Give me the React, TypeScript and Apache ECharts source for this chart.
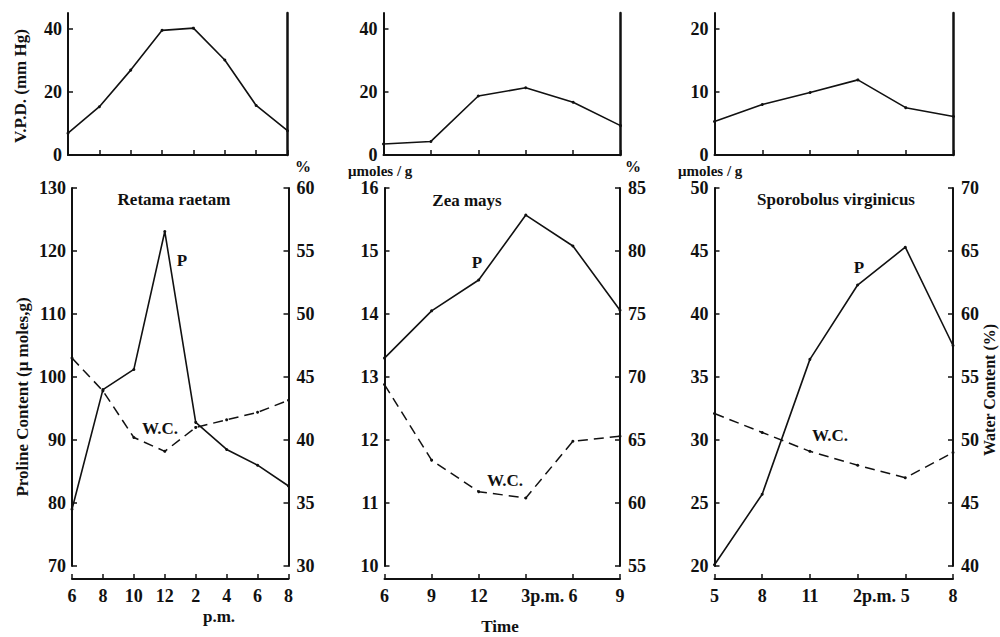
import React, { useEffect, useRef } from "react";
import * as echarts from "echarts";

// ---- Retama raetam ----
const retamaCats = ["06:00", "08:00", "10:00", "12:00", "14:00", "16:00", "18:00", "20:00"];
const retamaTickLabels = ["6", "8", "10", "12", "2", "4", "6", "8"];
const retamaVPD = [6.9, 15.3, 26.9, 39.5, 40.2, 30.1, 15.7, 7.7];
const retamaProline = [79, 98.0, 101.2, 123.1, 92.8, 88.5, 86.0, 82.7];
const retamaWater = [46.5, 43.9, 40.2, 39.1, 41.0, 41.6, 42.2, 43.15];

// ---- Zea mays ----
const zeaCats = ["06:00", "09:00", "12:00", "15:00", "18:00", "21:00"];
const zeaTickLabels = ["6", "9", "12", "3p.m.", "6", "9"];
const zeaVPD = [3.5, 4.3, 18.7, 21.3, 16.7, 9.3];
const zeaProline = [13.3, 14.05, 14.54, 15.57, 15.08, 14.06];
const zeaWater = [69.4, 63.4, 60.9, 60.4, 64.9, 65.3];

// ---- Sporobolus virginicus ----
const sporoCats = ["05:00", "08:00", "11:00", "14:00", "17:00", "20:00"];
const sporoTickLabels = ["5", "8", "11", "2p.m.", "5", "8"];
const sporoVPD = [5.3, 8.0, 9.9, 11.9, 7.5, 6.1];
const sporoProline = [20.1, 25.7, 36.4, 42.3, 45.3, 37.5];
const sporoWater = [52.1, 50.6, 49.1, 48.0, 47.0, 49.0];

// axis scales
const vpdTicksA = [0, 20, 40];
const vpdTicksB = [0, 10, 20];
const prolineRanges = [
  [70, 130, 10],
  [10, 16, 1],
  [20, 50, 5],
];
const waterRanges = [
  [30, 60, 5],
  [55, 85, 5],
  [40, 70, 5],
];
const titles = ["Retama raetam", "Zea mays", "Sporobolus virginicus"];

const FONT = "Liberation Serif";
const INK = "#111";

const panels = [
  { cats: retamaCats, labels: retamaTickLabels, vpd: retamaVPD, p: retamaProline, wc: retamaWater, vpdTicks: vpdTicksA, vpdMax: 45 },
  { cats: zeaCats, labels: zeaTickLabels, vpd: zeaVPD, p: zeaProline, wc: zeaWater, vpdTicks: vpdTicksA, vpdMax: 45 },
  { cats: sporoCats, labels: sporoTickLabels, vpd: sporoVPD, p: sporoProline, wc: sporoWater, vpdTicks: vpdTicksB, vpdMax: 22.5 },
];

const topGrids = [
  { left: 68, width: 219.5 },
  { left: 383.5, width: 237 },
  { left: 714.5, width: 239 },
];
const botGrids = [
  { left: 72, width: 216.5 },
  { left: 384.5, width: 235.5 },
  { left: 714.5, width: 238.5 },
];

function txt(text: string, x: number, y: number, size = 17, rotation = 0, align = "center") {
  return {
    type: "text",
    x,
    y,
    rotation,
    silent: true,
    style: {
      text,
      fill: INK,
      font: `bold ${size}px "${FONT}"`,
      fontFamily: FONT,
      fontWeight: "bold",
      fontSize: size,
      align,
      textAlign: align,
      verticalAlign: "middle",
      textVerticalAlign: "middle",
    },
  };
}

function buildOption() {
  const grid: any[] = [];
  const xAxis: any[] = [];
  const yAxis: any[] = [];
  const series: any[] = [];
  const lineStyleAxis = { color: INK, width: 2 };
  const labelBase = { fontFamily: FONT, fontSize: 18, fontWeight: "bold", color: INK };

  // top panels
  panels.forEach((pn, i) => {
    grid.push({ left: topGrids[i].left, width: topGrids[i].width, top: 13, height: 142, containLabel: false, outerBoundsMode: "none" });
    xAxis.push({
      type: "category",
      gridIndex: grid.length - 1,
      data: pn.cats,
      boundaryGap: false,
      axisLine: { show: true, onZero: false, lineStyle: lineStyleAxis },
      axisTick: { show: true, inside: true, length: 5, interval: 0, lineStyle: { color: INK, width: 1.5 } },
      axisLabel: { show: false },
      splitLine: { show: false },
    });
    yAxis.push({
      type: "value",
      gridIndex: grid.length - 1,
      position: "left",
      min: 0,
      max: pn.vpdMax,
      interval: pn.vpdTicks[1],
      axisLine: { show: true, lineStyle: lineStyleAxis },
      axisTick: { show: true, inside: true, length: 5, customValues: pn.vpdTicks, lineStyle: { color: INK, width: 1.5 } },
      axisLabel: { ...labelBase, margin: 6, customValues: pn.vpdTicks },
      splitLine: { show: false },
    });
    yAxis.push({
      type: "value",
      gridIndex: grid.length - 1,
      position: "right",
      min: 0,
      max: pn.vpdMax,
      axisLine: { show: true, lineStyle: { color: INK, width: 2.5 } },
      axisTick: { show: false },
      axisLabel: { show: false },
      splitLine: { show: false },
    });
    series.push({
      type: "line",
      name: "V.P.D. " + titles[i],
      xAxisIndex: xAxis.length - 1,
      yAxisIndex: yAxis.length - 2,
      data: pn.vpd,
      symbol: "circle",
      symbolSize: 3,
      itemStyle: { color: INK },
      lineStyle: { color: INK, width: 1.6 },
    });
  });

  // bottom panels
  panels.forEach((pn, i) => {
    grid.push({ left: botGrids[i].left, width: botGrids[i].width, top: 188, height: 378, containLabel: false, outerBoundsMode: "none" });
    const labels = pn.labels;
    xAxis.push({
      type: "category",
      gridIndex: grid.length - 1,
      data: pn.cats,
      boundaryGap: false,
      offset: 13,
      axisLine: { show: true, onZero: false, lineStyle: lineStyleAxis },
      axisTick: { show: true, inside: true, length: 5, interval: 0, lineStyle: { color: INK, width: 1.5 } },
      axisLabel: {
        ...labelBase,
        interval: 0,
        margin: 8,
        formatter: (_v: string, idx: number) => {
          const l = labels[idx];
          if (l.endsWith("p.m.")) {
            const n = l.replace("p.m.", "");
            return `{n|${n}}{pm|p.m.}`;
          }
          return l;
        },
        rich: {
          n: { fontFamily: FONT, fontSize: 18, fontWeight: "bold", color: INK, padding: [0, 0, 0, 34] },
          pm: { fontFamily: FONT, fontSize: 18, fontWeight: "bold", color: INK },
        },
      },
      splitLine: { show: false },
    });
    const pr = prolineRanges[i];
    const wr = waterRanges[i];
    yAxis.push({
      type: "value",
      gridIndex: grid.length - 1,
      position: "left",
      min: pr[0],
      max: pr[1],
      interval: pr[2],
      axisLine: { show: true, lineStyle: lineStyleAxis },
      axisTick: { show: true, inside: true, length: 5, lineStyle: { color: INK, width: 1.5 } },
      axisLabel: { ...labelBase, margin: 6 },
      splitLine: { show: false },
    });
    yAxis.push({
      type: "value",
      gridIndex: grid.length - 1,
      position: "right",
      min: wr[0],
      max: wr[1],
      interval: wr[2],
      axisLine: { show: true, lineStyle: lineStyleAxis },
      axisTick: { show: true, inside: true, length: 5, lineStyle: { color: INK, width: 1.5 } },
      axisLabel: { ...labelBase, margin: 8 },
      splitLine: { show: false },
    });
    series.push({
      type: "line",
      name: "P " + titles[i],
      xAxisIndex: xAxis.length - 1,
      yAxisIndex: yAxis.length - 2,
      data: pn.p,
      symbol: "circle",
      symbolSize: 3,
      itemStyle: { color: INK },
      lineStyle: { color: INK, width: 1.6 },
    });
    series.push({
      type: "line",
      name: "W.C. " + titles[i],
      xAxisIndex: xAxis.length - 1,
      yAxisIndex: yAxis.length - 1,
      data: pn.wc,
      symbol: "circle",
      symbolSize: 3,
      itemStyle: { color: INK },
      lineStyle: { color: INK, width: 1.5, type: [10, 6] },
    });
  });

  const graphic: any[] = [
    txt("V.P.D. (mm Hg)", 20, 86, 17, Math.PI / 2),
    txt("Proline Content (\u03bc moles,g)", 22, 397, 17, Math.PI / 2),
    txt("Water Content (%)", 989, 390, 16, Math.PI / 2),
    txt("%", 303, 166, 16),
    txt("%", 633, 166, 16),
    txt("\u03bcmoles / g", 348, 171, 15, 0, "left"),
    txt("\u03bcmoles / g", 678, 171, 15, 0, "left"),
    txt(titles[0], 174, 199, 17),
    txt(titles[1], 467, 200, 17),
    txt(titles[2], 836, 199, 17),
    txt("P", 182, 260, 17),
    txt("P", 477, 262, 17),
    txt("P", 859, 267, 17),
    txt("W.C.", 160, 428, 17),
    txt("W.C.", 505, 480, 17),
    txt("W.C.", 830, 435, 17),
    txt("p.m.", 219, 616, 17),
    txt("Time", 500, 626, 17),
  ];

  return {
    animation: false,
    backgroundColor: "#ffffff",
    textStyle: { fontFamily: FONT },
    grid,
    xAxis,
    yAxis,
    series,
    graphic,
  };
}

export default function App() {
  const ref = useRef<HTMLDivElement>(null);
  useEffect(() => {
    document.body.style.margin = "0";
    if (!ref.current) return;
    const chart = echarts.init(ref.current, null, { renderer: "svg" });
    chart.setOption(buildOption() as any);
    return () => chart.dispose();
  }, []);
  return <div ref={ref} style={{ width: 1000, height: 637 }} />;
}
